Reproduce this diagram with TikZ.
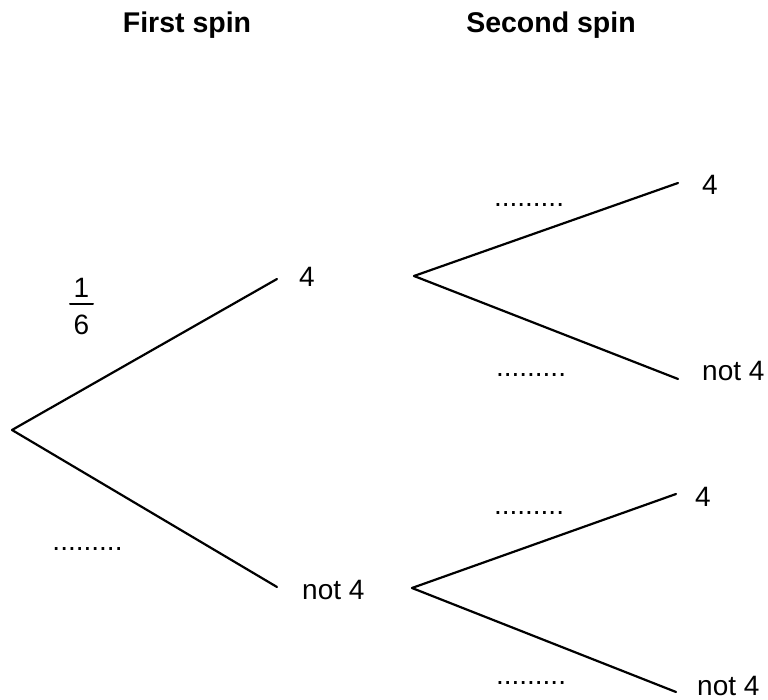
\documentclass[tikz,border=0pt]{standalone}
\usepackage{fontspec}
\setmainfont{Liberation Sans}
\usepackage{tikz}
\usepackage{tkz-euclide}

\tikzset{
  branch/.style={line width=2.2pt},
  lbl/.style={inner sep=0pt, anchor=west},
  gap/.style={inner sep=0pt, anchor=base},
  heading/.style={inner sep=0pt, anchor=base, font=\fontsize{28.5}{34}\selectfont\bfseries}
}

\begin{document}
\begin{tikzpicture}[x=1pt,y=1pt,font=\fontsize{28}{34}\selectfont]
        \useasboundingbox (0,0) rectangle (768,700);
        \tkzDefPoint(12,270){root}
        \tkzDefPoint(277,421){a4}
        \tkzDefPoint(277,113){an}
        \tkzDefPoint(414,424){b}
        \tkzDefPoint(678,517){b4}
        \tkzDefPoint(678,321){bn}
        \tkzDefPoint(412,112){c}
        \tkzDefPoint(676,206){c4}
        \tkzDefPoint(676,8){cn}
        \tkzDefPoint(70,396){barl}
        \tkzDefPoint(93,396){barr}
        \tkzDrawSegment[branch](root,a4)
        \tkzDrawSegment[branch](root,an)
        \tkzDrawSegment[branch](b,b4)
        \tkzDrawSegment[branch](b,bn)
        \tkzDrawSegment[branch](c,c4)
        \tkzDrawSegment[branch](c,cn)
        \tkzDrawSegment[line width=2pt](barl,barr)
        % headings
        \node[heading] (first) at (187,667) {First spin};
        \node[heading] (second) at (551,667) {Second spin};
        % outcomes
        \node[lbl] (la4) at (299,423) {4};
        \node[lbl] (lan) at (302,110) {not 4};
        \node[lbl] (lb4) at (702,515) {4};
        \node[lbl] (lbn) at (702,329) {not 4};
        \node[lbl] (lc4) at (695,203) {4};
        \node[lbl] (lcn) at (697,14) {not 4};
        % probabilities
        \node[inner sep=0pt] (num) at (81.5,412.5) {1};
        \node[inner sep=0pt] (den) at (81.5,375) {6};
        \node[gap] (pan) at (87.5,149) {.........};
        \node[gap] (pb4) at (529,493) {.........};
        \node[gap] (pbn) at (531,323) {.........};
        \node[gap] (pc4) at (529,185) {.........};
        \node[gap] (pcn) at (531,15) {.........};
\end{tikzpicture}
\end{document}
